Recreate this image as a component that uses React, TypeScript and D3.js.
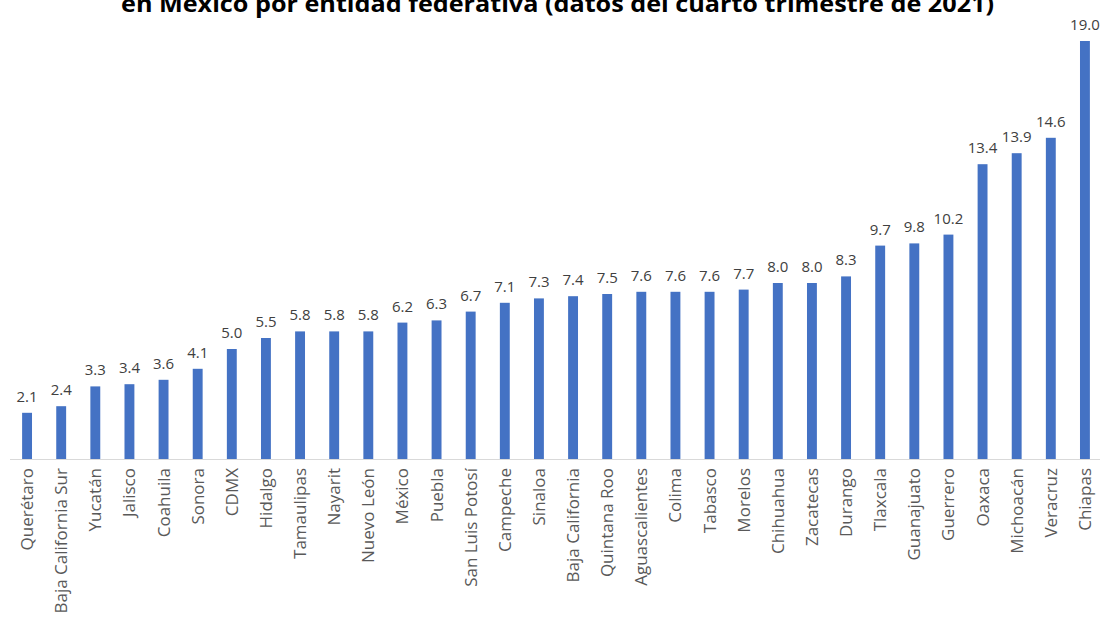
import React from "react";
import * as d3 from "d3";

const states = ["Querétaro","Baja California Sur","Yucatán","Jalisco","Coahuila","Sonora","CDMX","Hidalgo","Tamaulipas","Nayarit","Nuevo León","México","Puebla","San Luis Potosí","Campeche","Sinaloa","Baja California","Quintana Roo","Aguascalientes","Colima","Tabasco","Morelos","Chihuahua","Zacatecas","Durango","Tlaxcala","Guanajuato","Guerrero","Oaxaca","Michoacán","Veracruz","Chiapas"];
const values = [2.1,2.4,3.3,3.4,3.6,4.1,5.0,5.5,5.8,5.8,5.8,6.2,6.3,6.7,7.1,7.3,7.4,7.5,7.6,7.6,7.6,7.7,8.0,8.0,8.3,9.7,9.8,10.2,13.4,13.9,14.6,19.0];
const title = "en México por entidad federativa (datos del cuarto trimestre de 2021)";

const W = 1102, H = 620;
const baseY = 459;
const font = "'Open Sans', 'Noto Sans', sans-serif";

export default function App() {
  const x = d3.scaleBand<string>().domain(states).range([10, 1102]).paddingInner(0.71).paddingOuter(0.355);
  const y = d3.scaleLinear().domain([0, 19]).range([baseY, 41]);
  return (
    <svg width={W} height={H} style={{ position: "absolute", left: 0, top: 0, background: "#fff" }}>
      <text x={121} y={12} fontFamily={font} fontWeight="bold" fontSize={24} fill="#000" textLength={873} lengthAdjust="spacingAndGlyphs">{title}</text>
      <line x1={10} x2={1100} y1={baseY + 0.5} y2={baseY + 0.5} stroke="#D9D9D9" strokeWidth={1} />
      {states.map((s, i) => {
        const bx = x(s)!;
        const cx = bx + x.bandwidth() / 2;
        const v = values[i];
        return (
          <g key={s}>
            <rect x={bx} y={y(v)} width={x.bandwidth()} height={baseY - y(v)} fill="#4472C4" />
            <text x={cx} y={y(v) - 11} textAnchor="middle" fontFamily={font} fontSize={15} fill="#404040">{v.toFixed(1)}</text>
            <text transform={`translate(${cx + 6},${baseY + 9}) rotate(-90)`} textAnchor="end" fontFamily={font} fontSize={17} fill="#595959">{s}</text>
          </g>
        );
      })}
    </svg>
  );
}
